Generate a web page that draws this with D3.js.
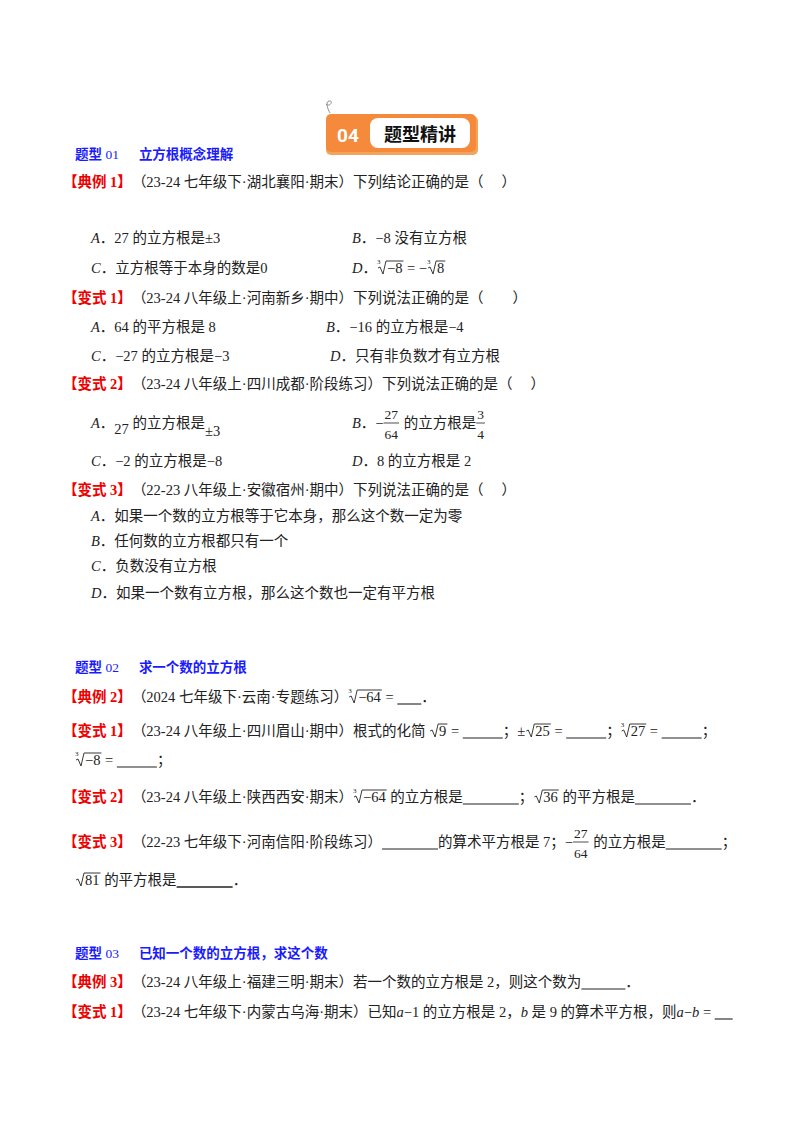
<!DOCTYPE html>
<html><head><meta charset="utf-8">
<script src="https://cdn.jsdelivr.net/npm/d3@7"></script>
<style>body{margin:0;background:#fff} text{white-space:pre}</style>
</head><body>
<svg id="page" width="800" height="1132"></svg>
<script>
'use strict';

var headings = [
  {y: 159, num: '01', title: '立方根概念理解'},
  {y: 672, num: '02', title: '求一个数的立方根'},
  {y: 958, num: '03', title: '已知一个数的立方根，求这个数'}
];

// each line: [x, baseline y, segments]
var lines = [
  [63, 187, [{r: '【典例 1】'}, '（23-24 七年级下·湖北襄阳·期末）下列结论正确的是（　 ）']],
  [91, 243, [{i: 'A'}, '．27 的立方根是±3']],
  [352, 243, [{i: 'B'}, '．−8 没有立方根']],
  [91, 273, [{i: 'C'}, '．立方根等于本身的数是0']],
  [352, 273, [{i: 'D'}, '．', {rt: '−8', n: '3'}, ' = −', {rt: '8', n: '3'}]],
  [63, 303, [{r: '【变式 1】'}, '（23-24 八年级上·河南新乡·期中）下列说法正确的是（　　）']],
  [91, 332, [{i: 'A'}, '．64 的平方根是 8']],
  [326, 332, [{i: 'B'}, '．−16 的立方根是−4']],
  [91, 361, [{i: 'C'}, '．−27 的立方根是−3']],
  [330, 361, [{i: 'D'}, '．只有非负数才有立方根']],
  [63, 389, [{r: '【变式 2】'}, '（23-24 八年级上·四川成都·阶段练习）下列说法正确的是（　 ）']],
  [91, 428, [{i: 'A'}, '．', {sh: '27', dy: 6}, ' 的立方根是', {sh: '±3', dy: 8}]],
  [352, 428, [{i: 'B'}, '．−', {fr: ['27', '64']}, ' 的立方根是', {fr: ['3', '4']}]],
  [91, 466, [{i: 'C'}, '．−2 的立方根是−8']],
  [352, 466, [{i: 'D'}, '．8 的立方根是 2']],
  [63, 495, [{r: '【变式 3】'}, '（22-23 八年级上·安徽宿州·期中）下列说法正确的是（　 ）']],
  [91, 521, [{i: 'A'}, '．如果一个数的立方根等于它本身，那么这个数一定为零']],
  [91, 546, [{i: 'B'}, '．任何数的立方根都只有一个']],
  [91, 571, [{i: 'C'}, '．负数没有立方根']],
  [91, 598, [{i: 'D'}, '．如果一个数有立方根，那么这个数也一定有平方根']],
  [63, 702, [{r: '【典例 2】'}, '（2024 七年级下·云南·专题练习）', {rt: '−64', n: '3'}, ' = ', {bl: 24}, '．']],
  [63, 736, [{r: '【变式 1】'}, '（23-24 八年级上·四川眉山·期中）根式的化简 ', {rt: '9'}, ' = ', {bl: 40}, '；±', {rt: '25'}, ' = ', {bl: 40}, '；', {rt: '27', n: '3'}, ' = ', {bl: 40}, '；']],
  [75, 765, [{rt: '−8', n: '3'}, ' = ', {bl: 40}, '；']],
  [63, 802, [{r: '【变式 2】'}, '（23-24 八年级上·陕西西安·期末）', {rt: '−64', n: '3'}, ' 的立方根是', {bl: 56}, '；', {rt: '36'}, ' 的平方根是', {bl: 56}, '．']],
  [63, 847, [{r: '【变式 3】'}, '（22-23 七年级下·河南信阳·阶段练习）', {bl: 56}, '的算术平方根是 7；−', {fr: ['27', '64']}, ' 的立方根是', {bl: 56}, '；']],
  [75, 885, [{rt: '81'}, ' 的平方根是', {bl: 56, b: true}, '．']],
  [63, 987, [{r: '【典例 3】'}, '（23-24 八年级上·福建三明·期末）若一个数的立方根是 2，则这个数为', {bl: 44}, '．']],
  [63, 1017, [{r: '【变式 1】'}, '（23-24 七年级下·内蒙古乌海·期末）已知', {i: 'a'}, '−1 的立方根是 2，', {i: 'b'}, ' 是 9 的算术平方根，则', {i: 'a'}, '−', {i: 'b'}, ' = ', {bl: 18}]]
];

var svg = d3.select('#page');
var FONT = '"Liberation Serif","Noto Sans CJK SC",serif';
var FS = 14.5;

// header badge
var badge = svg.append('g').attr('transform', 'translate(326,114)');
badge.append('rect').attr('x', 0).attr('y', 2).attr('width', 152).attr('height', 39).attr('rx', 5).attr('fill', '#f2a35c');
badge.append('rect').attr('x', 0).attr('y', 0).attr('width', 150).attr('height', 38).attr('rx', 5).attr('fill', '#f58a3c');
badge.append('rect').attr('x', 44).attr('y', 4).attr('width', 100).attr('height', 30).attr('rx', 8).attr('fill', '#fff');
badge.append('text').attr('x', 22).attr('y', 28).attr('text-anchor', 'middle')
  .attr('font-family', 'Roboto,sans-serif').attr('font-weight', 'bold').attr('font-size', 19).attr('fill', '#fff').text('04');
badge.append('text').attr('x', 94).attr('y', 27).attr('text-anchor', 'middle')
  .attr('font-family', '"Noto Sans CJK SC"').attr('font-weight', 'bold').attr('font-size', 18).attr('fill', '#111').text('题型精讲');
badge.append('path').attr('d', 'M0,-10 C4,-6 8,-14 3,-13 C-1,-12 2,-4 4,-1').attr('fill', 'none').attr('stroke', '#777').attr('stroke-width', 0.8);

headings.forEach(function(h) {
  var t = svg.append('text').attr('x', 75).attr('y', h.y).attr('fill', '#1a1aff')
    .attr('font-family', FONT).attr('font-size', 13.5).attr('font-weight', 'bold');
  t.append('tspan').text('题型 ');
  t.append('tspan').attr('font-weight', 'normal').text(h.num);
  t.append('tspan').attr('dx', 20).text(h.title);
});

function txt(g, x, y, s, opts) {
  opts = opts || {};
  var t = g.append('text').attr('x', x).attr('y', y).attr('font-family', FONT)
    .attr('font-size', opts.fs || FS).attr('fill', opts.c || '#222').text(s);
  if (opts.b) t.attr('font-weight', 'bold');
  if (opts.it) t.attr('font-style', 'italic');
  return t.node().getComputedTextLength();
}

lines.forEach(function(ln) {
  var x = ln[0], y = ln[1], g = svg.append('g');
  ln[2].forEach(function(s) {
    if (typeof s === 'string') { x += txt(g, x, y, s); return; }
    if (s.r) { x += txt(g, x, y, s.r, {c: '#e00', b: true}); return; }
    if (s.i) { x += txt(g, x, y, s.i, {it: true}); return; }
    if (s.sh) { x += txt(g, x, y + s.dy, s.sh); return; }
    if (s.bl) {
      g.append('line').attr('x1', x).attr('x2', x + s.bl).attr('y1', y + 2).attr('y2', y + 2)
        .attr('stroke', '#222').attr('stroke-width', s.b ? 1.4 : 1.1);
      x += s.bl; return;
    }
    if (s.fr) {
      var tmp = g.append('g');
      var w = Math.max(txt(tmp, 0, -100, s.fr[0], {fs: 13.5}), txt(tmp, 0, -100, s.fr[1], {fs: 13.5}));
      tmp.remove();
      var cx = x + 1 + w / 2;
      g.append('text').attr('x', cx).attr('y', y - 9).attr('text-anchor', 'middle').attr('font-family', FONT).attr('font-size', 13.5).attr('fill', '#222').text(s.fr[0]);
      g.append('text').attr('x', cx).attr('y', y + 11).attr('text-anchor', 'middle').attr('font-family', FONT).attr('font-size', 13.5).attr('fill', '#222').text(s.fr[1]);
      g.append('line').attr('x1', x).attr('x2', x + w + 2).attr('y1', y - 5).attr('y2', y - 5).attr('stroke', '#222').attr('stroke-width', 0.8);
      x += w + 3; return;
    }
    if (s.rt) {
      if (s.n) txt(g, x, y - 9, s.n, {fs: 7});
      var rx = x + 10;
      var rw = txt(g, rx, y, s.rt);
      g.append('path').attr('d', 'M' + (x + 1) + ',' + (y - 5) + 'L' + (x + 3) + ',' + (y - 6) + 'L' + (x + 6) + ',' + (y + 1) +
        'L' + (x + 9) + ',' + (y - 12) + 'L' + (rx + rw + 1) + ',' + (y - 12))
        .attr('fill', 'none').attr('stroke', '#222').attr('stroke-width', 0.9);
      x = rx + rw + 1;
    }
  });
});
</script>
</body></html>
